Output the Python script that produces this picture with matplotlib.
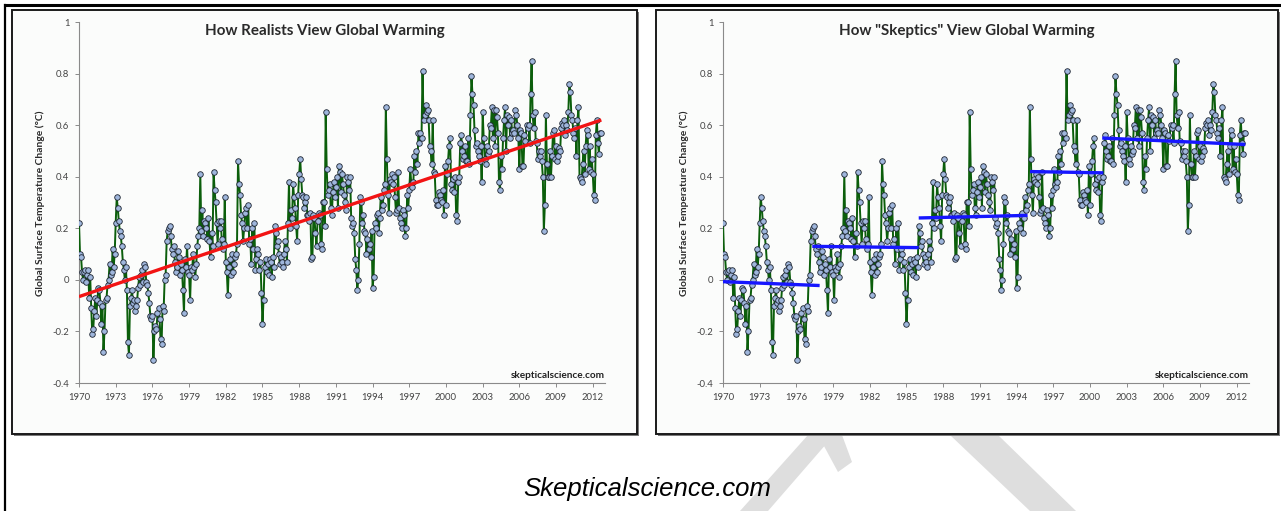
import numpy as np
import matplotlib
matplotlib.use("Agg")
import matplotlib.pyplot as plt
from matplotlib.patches import Rectangle, Polygon
from matplotlib.lines import Line2D

# monthly anomalies (deg C), Jan 1970 .. Sep 2012
t1970 = [0.22, 0.10, 0.09, 0.03, 0.00, 0.03, 0.04, -0.01, 0.02, 0.04, -0.07, 0.01]
t1971 = [-0.11, -0.21, -0.19, -0.12, -0.07, -0.14, -0.08, -0.03, -0.04, -0.09, -0.17, -0.10]
t1972 = [-0.28, -0.20, -0.08, -0.07, -0.02, 0.00, 0.06, 0.02, 0.03, 0.12, 0.05, 0.10]
t1973 = [0.22, 0.32, 0.28, 0.23, 0.19, 0.17, 0.13, 0.07, 0.04, 0.00, 0.05, -0.04]
t1974 = [-0.24, -0.29, -0.10, -0.07, -0.04, -0.09, -0.08, -0.12, -0.10, -0.08, -0.03, 0.01]
t1975 = [-0.02, 0.02, 0.04, -0.01, 0.06, 0.05, -0.01, -0.02, -0.05, -0.09, -0.14, -0.15]
t1976 = [-0.14, -0.31, -0.20, -0.18, -0.19, -0.13, -0.11, -0.15, -0.23, -0.25, -0.10, -0.12]
t1977 = [0.00, 0.02, 0.15, 0.19, 0.20, 0.21, 0.17, 0.12, 0.10, 0.13, 0.07, 0.03]
t1978 = [0.05, 0.11, 0.09, 0.02, 0.06, 0.04, -0.04, -0.13, 0.08, 0.05, 0.13, 0.03]
t1979 = [0.02, -0.08, 0.05, 0.04, 0.10, 0.05, 0.01, 0.06, 0.13, 0.17, 0.20, 0.41]
t1980 = [0.19, 0.27, 0.17, 0.23, 0.22, 0.20, 0.16, 0.24, 0.15, 0.09, 0.18, 0.13]
t1981 = [0.42, 0.35, 0.30, 0.22, 0.14, 0.23, 0.20, 0.23, 0.16, 0.12, 0.14, 0.32]
t1982 = [0.07, 0.03, -0.06, 0.05, 0.08, 0.02, 0.10, 0.03, 0.06, 0.09, 0.10, 0.14]
t1983 = [0.46, 0.37, 0.33, 0.25, 0.22, 0.15, 0.20, 0.26, 0.28, 0.20, 0.29, 0.14]
t1984 = [0.16, 0.06, 0.20, 0.12, 0.22, 0.04, 0.08, 0.12, 0.10, 0.04, 0.07, -0.05]
t1985 = [-0.17, -0.08, 0.05, 0.08, 0.03, 0.06, 0.02, 0.08, 0.07, 0.01, 0.09, 0.05]
t1986 = [0.21, 0.18, 0.13, 0.15, 0.10, 0.06, 0.09, 0.07, 0.05, 0.10, 0.15, 0.12]
t1987 = [0.07, 0.22, 0.38, 0.20, 0.27, 0.24, 0.37, 0.32, 0.28, 0.21, 0.15, 0.33]
t1988 = [0.41, 0.47, 0.39, 0.33, 0.32, 0.28, 0.30, 0.32, 0.25, 0.25, 0.23, 0.26]
t1989 = [0.08, 0.09, 0.25, 0.24, 0.18, 0.13, 0.23, 0.26, 0.25, 0.14, 0.12, 0.30]
t1990 = [0.30, 0.21, 0.65, 0.43, 0.33, 0.35, 0.37, 0.28, 0.25, 0.34, 0.38, 0.32]
t1991 = [0.36, 0.40, 0.28, 0.44, 0.42, 0.34, 0.41, 0.37, 0.33, 0.30, 0.27, 0.40]
t1992 = [0.38, 0.35, 0.40, 0.24, 0.21, 0.22, 0.18, 0.08, 0.04, -0.04, 0.00, 0.14]
t1993 = [0.32, 0.30, 0.22, 0.25, 0.19, 0.18, 0.10, 0.16, 0.12, 0.14, 0.09, 0.19]
t1994 = [-0.03, 0.01, 0.22, 0.20, 0.25, 0.26, 0.18, 0.24, 0.32, 0.27, 0.29, 0.35]
t1995 = [0.37, 0.67, 0.47, 0.33, 0.26, 0.39, 0.38, 0.41, 0.37, 0.40, 0.32, 0.26]
t1996 = [0.27, 0.42, 0.28, 0.24, 0.22, 0.20, 0.27, 0.25, 0.17, 0.20, 0.33, 0.28]
t1997 = [0.35, 0.43, 0.37, 0.36, 0.38, 0.48, 0.42, 0.50, 0.45, 0.57, 0.53, 0.57]
t1998 = [0.55, 0.81, 0.62, 0.64, 0.68, 0.65, 0.66, 0.62, 0.52, 0.50, 0.45, 0.62]
t1999 = [0.42, 0.41, 0.31, 0.29, 0.29, 0.34, 0.33, 0.31, 0.30, 0.35, 0.25, 0.44]
t2000 = [0.29, 0.41, 0.46, 0.52, 0.55, 0.37, 0.35, 0.39, 0.34, 0.40, 0.25, 0.23]
t2001 = [0.38, 0.40, 0.53, 0.56, 0.50, 0.47, 0.48, 0.52, 0.46, 0.46, 0.55, 0.45]
t2002 = [0.64, 0.79, 0.72, 0.68, 0.58, 0.52, 0.53, 0.50, 0.48, 0.46, 0.52, 0.38]
t2003 = [0.65, 0.55, 0.47, 0.45, 0.52, 0.49, 0.50, 0.60, 0.59, 0.67, 0.55, 0.66]
t2004 = [0.52, 0.66, 0.63, 0.57, 0.38, 0.35, 0.48, 0.43, 0.55, 0.62, 0.67, 0.50]
t2005 = [0.64, 0.60, 0.63, 0.55, 0.62, 0.57, 0.58, 0.57, 0.66, 0.64, 0.60, 0.55]
t2006 = [0.43, 0.58, 0.57, 0.44, 0.44, 0.56, 0.54, 0.60, 0.59, 0.60, 0.53, 0.72]
t2007 = [0.85, 0.64, 0.59, 0.65, 0.54, 0.53, 0.47, 0.50, 0.48, 0.50, 0.46, 0.40]
t2008 = [0.19, 0.29, 0.64, 0.45, 0.40, 0.40, 0.50, 0.40, 0.48, 0.57, 0.58, 0.47]
t2009 = [0.52, 0.46, 0.48, 0.51, 0.50, 0.59, 0.61, 0.60, 0.62, 0.56, 0.60, 0.58]
t2010 = [0.65, 0.76, 0.73, 0.64, 0.62, 0.57, 0.55, 0.59, 0.48, 0.62, 0.67, 0.40]
t2011 = [0.39, 0.38, 0.45, 0.50, 0.41, 0.52, 0.58, 0.56, 0.43, 0.52, 0.42, 0.47]
t2012 = [0.41, 0.33, 0.31, 0.56, 0.62, 0.53, 0.49, 0.57, 0.57]

years = [t1970, t1971, t1972, t1973, t1974, t1975, t1976, t1977, t1978, t1979,
         t1980, t1981, t1982, t1983, t1984, t1985, t1986, t1987, t1988, t1989,
         t1990, t1991, t1992, t1993, t1994, t1995, t1996, t1997, t1998, t1999,
         t2000, t2001, t2002, t2003, t2004, t2005, t2006, t2007, t2008, t2009,
         t2010, t2011, t2012]
temps = np.concatenate(years)
dates = 1970 + np.arange(len(temps)) / 12.0

# realist trend line (end points)
trend_x = [1970.0, 2012.7]
trend_y = [-0.065, 0.62]

# "skeptic" escalator steps
step_x0 = [1970.0, 1977.3, 1986.0, 1995.1, 2001.0]
step_x1 = [1977.9, 1986.0, 1994.9, 2001.1, 2012.7]
step_y0 = [-0.007, 0.130, 0.240, 0.420, 0.550]
step_y1 = [-0.022, 0.125, 0.250, 0.415, 0.525]

xticks = list(range(1970, 2013, 3))
yticks = [1, 0.8, 0.6, 0.4, 0.2, 0, -0.2, -0.4]
ylabels = ["1", "0.8", "0.6", "0.4", "0.2", "0", "-0.2", "-0.4"]

W, H = 1281, 511
fig = plt.figure(figsize=(W / 100, H / 100), dpi=100)
fig.patch.set_facecolor("white")


def fx(x):
    return x / W


def fy(y):
    return 1 - y / H


# grey watermark strokes under the panels
wm_color = "#dedede"
for pts in ([(808, 435), (834, 435), (768, 511), (740, 511)],
            [(818, 435), (842, 435), (852, 462), (838, 472)],
            [(950, 435), (998, 435), (1076, 511), (1030, 511)]):
    fig.patches.append(Polygon([(fx(a), fy(b)) for a, b in pts], closed=True,
                               transform=fig.transFigure, facecolor=wm_color,
                               edgecolor="none", zorder=0))

# outer frame lines (top and left)
fig.lines.append(Line2D([fx(5), fx(1281)], [fy(5), fy(5)], transform=fig.transFigure,
                        color="black", lw=2.2))
fig.lines.append(Line2D([fx(5), fx(5)], [fy(5), fy(511)], transform=fig.transFigure,
                        color="black", lw=1.6))

titles = ["How Realists View Global Warming", 'How "Skeptics" View Global Warming']
panel_w = [625, 622]
font = "Lato"

for k in range(2):
    off = 644 * k
    # panel shadow + frame
    fig.patches.append(Rectangle((fx(14 + off), fy(436)), fx(panel_w[k]), 424 / H,
                                 transform=fig.transFigure, facecolor="#7a7a7a",
                                 edgecolor="none", zorder=1))
    fig.patches.append(Rectangle((fx(12 + off), fy(434)), fx(panel_w[k]), 424 / H,
                                 transform=fig.transFigure, facecolor="#fbfcfb",
                                 edgecolor="#1a1a1a", lw=1.4, zorder=2))

    ax = fig.add_axes([fx(79 + off), fy(383), fx(526), 361 / H], zorder=3)
    ax.patch.set_alpha(0)
    ax.plot(dates, temps, color="#0b5e0b", lw=1.4, marker="o", ms=4.0,
            mfc="#9fb6dc", mec="#1c2430", mew=0.6, zorder=3)
    if k == 0:
        ax.plot(trend_x, trend_y, color="#f21414", lw=2.4, zorder=4,
                solid_capstyle="butt")
    else:
        for a, b, c, d in zip(step_x0, step_x1, step_y0, step_y1):
            ax.plot([a, b], [c, d], color="#1616ff", lw=2.4, zorder=4,
                    solid_capstyle="butt")

    ax.set_xlim(1970, 2013)
    ax.set_ylim(-0.4, 1)
    ax.set_xticks(xticks)
    ax.set_xticklabels([str(v) for v in xticks])
    ax.set_yticks(yticks)
    ax.set_yticklabels(ylabels)
    for s in ("top", "right"):
        ax.spines[s].set_visible(False)
    for s in ("left", "bottom"):
        ax.spines[s].set_color("#8a8a8a")
        ax.spines[s].set_linewidth(0.8)
    ax.tick_params(direction="out", length=3, width=0.7, color="#8a8a8a",
                   labelsize=6.8, labelcolor="#444444", pad=4)
    for lab in ax.get_xticklabels() + ax.get_yticklabels():
        lab.set_family(font)

    ax.text(1.0, 0.022, "skepticalscience.com", transform=ax.transAxes,
            ha="right", va="center", fontsize=7.2, fontweight="bold",
            family=font, color="#222222", zorder=5)

    fig.text(fx(12 + off + panel_w[k] / 2), fy(31), titles[k], ha="center", va="center",
             fontsize=10.9, fontweight="bold", family=font, color="#2a2a2a", zorder=5)
    fig.text(fx(40 + off), fy(203), "Global Surface Temperature Change (\u00b0C)",
             rotation=90, ha="center", va="center", fontsize=7.4,
             fontweight="bold", family=font, color="#2a2a2a", zorder=5)

fig.text(fx(647), fy(489), "Skepticalscience.com", ha="center", va="center",
         fontsize=18.5, style="italic", family="Liberation Sans", color="black")

fig.savefig("out.png", dpi=100)
